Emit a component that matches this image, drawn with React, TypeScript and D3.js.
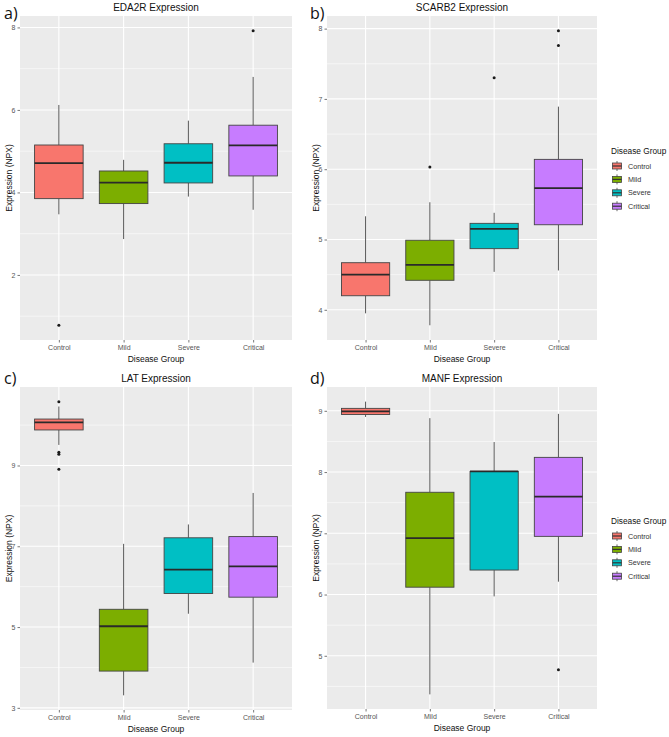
import React, { useEffect, useRef } from "react";
import * as d3 from "d3";

const groups = ["Control", "Mild", "Severe", "Critical"];
const groupColors = ["#F8766D", "#7CAE00", "#00BFC4", "#C77CFF"];

// box stats per group: [lower whisker, Q1, median, Q3, upper whisker]
const eda2rBoxes = [
  [3.47, 3.85, 4.71, 5.15, 6.12],
  [2.87, 3.73, 4.24, 4.52, 4.79],
  [3.9, 4.23, 4.72, 5.18, 5.74],
  [3.58, 4.4, 5.14, 5.63, 6.8],
];
const eda2rOutliers = [[0.78], [], [], [7.92]];
const eda2rTicks = [2, 4, 6, 8];
const eda2rMinor = [1, 3, 5, 7];

const scarb2Boxes = [
  [3.95, 4.2, 4.5, 4.67, 5.33],
  [3.78, 4.42, 4.64, 4.99, 5.53],
  [4.54, 4.87, 5.15, 5.23, 5.38],
  [4.56, 5.21, 5.73, 6.14, 6.89],
];
const scarb2Outliers = [[], [6.03], [7.3], [7.97, 7.76]];
const scarb2Ticks = [4, 5, 6, 7, 8];
const scarb2Minor = [4.5, 5.5, 6.5, 7.5];

const latBoxes = [
  [9.51, 9.88, 10.07, 10.15, 10.46],
  [3.31, 3.91, 5.02, 5.44, 7.06],
  [5.33, 5.83, 6.42, 7.21, 7.54],
  [4.12, 5.74, 6.5, 7.24, 8.32],
];
const latOutliers = [[10.58, 9.33, 9.28, 8.91], [], [], []];
const latTicks = [3, 5, 7, 9];
const latMinor = [4, 6, 8, 10];

const manfBoxes = [
  [8.9, 8.94, 8.99, 9.04, 9.15],
  [4.37, 6.12, 6.92, 7.67, 8.88],
  [5.97, 6.4, 8.01, 8.01, 8.49],
  [6.21, 6.95, 7.6, 8.24, 8.95],
];
const manfOutliers = [[], [], [], [4.77]];
const manfTicks = [5, 6, 7, 8, 9];
const manfMinor = [4.5, 5.5, 6.5, 7.5, 8.5];

const panels = [
  { tag: "a)", title: "EDA2R Expression", boxes: eda2rBoxes, outliers: eda2rOutliers, ticks: eda2rTicks, minor: eda2rMinor,
    x: 20, y: 16, w: 272, h: 324, tagX: 4, tagY: 19, legend: false },
  { tag: "b)", title: "SCARB2 Expression", boxes: scarb2Boxes, outliers: scarb2Outliers, ticks: scarb2Ticks, minor: scarb2Minor,
    x: 327, y: 16, w: 270, h: 324, tagX: 310, tagY: 19, legend: true },
  { tag: "c)", title: "LAT Expression", boxes: latBoxes, outliers: latOutliers, ticks: latTicks, minor: latMinor,
    x: 20, y: 387, w: 272, h: 323, tagX: 4, tagY: 384, legend: false },
  { tag: "d)", title: "MANF Expression", boxes: manfBoxes, outliers: manfOutliers, ticks: manfTicks, minor: manfMinor,
    x: 327, y: 387, w: 270, h: 322, tagX: 310, tagY: 384, legend: true },
];

const FONT = "'Liberation Sans', Arial, sans-serif";

export default function App() {
  const ref = useRef<SVGSVGElement>(null);

  useEffect(() => {
    const svg = d3.select(ref.current);
    svg.selectAll("*").remove();

    panels.forEach((p) => {
      const g = svg.append("g");
      const allVals = p.boxes.flat().concat(p.outliers.flat());
      const lo = d3.min(allVals) as number;
      const hi = d3.max(allVals) as number;
      const pad = (hi - lo) * 0.05;

      const x = d3
        .scalePoint<string>()
        .domain(groups)
        .range([p.x, p.x + p.w])
        .padding(0.6);
      const y = d3
        .scaleLinear()
        .domain([lo - pad, hi + pad])
        .range([p.y + p.h, p.y]);
      const bw = x.step() * 0.75;

      // panel background
      g.append("rect")
        .attr("x", p.x)
        .attr("y", p.y)
        .attr("width", p.w)
        .attr("height", p.h)
        .attr("fill", "#EBEBEB");

      // minor grid
      g.selectAll(".minor")
        .data(p.minor)
        .join("line")
        .attr("x1", p.x)
        .attr("x2", p.x + p.w)
        .attr("y1", (d) => y(d))
        .attr("y2", (d) => y(d))
        .attr("stroke", "#fff")
        .attr("stroke-width", 0.55);

      // major grid
      g.selectAll(".majorY")
        .data(p.ticks)
        .join("line")
        .attr("x1", p.x)
        .attr("x2", p.x + p.w)
        .attr("y1", (d) => y(d))
        .attr("y2", (d) => y(d))
        .attr("stroke", "#fff")
        .attr("stroke-width", 1.1);
      g.selectAll(".majorX")
        .data(groups)
        .join("line")
        .attr("x1", (d) => x(d)!)
        .attr("x2", (d) => x(d)!)
        .attr("y1", p.y)
        .attr("y2", p.y + p.h)
        .attr("stroke", "#fff")
        .attr("stroke-width", 1.1);

      // boxes
      p.boxes.forEach((b, i) => {
        const cx = x(groups[i])!;
        g.append("line")
          .attr("x1", cx)
          .attr("x2", cx)
          .attr("y1", y(b[4]))
          .attr("y2", y(b[3]))
          .attr("stroke", "#444")
          .attr("stroke-width", 0.9);
        g.append("line")
          .attr("x1", cx)
          .attr("x2", cx)
          .attr("y1", y(b[1]))
          .attr("y2", y(b[0]))
          .attr("stroke", "#444")
          .attr("stroke-width", 0.9);
        g.append("rect")
          .attr("x", cx - bw / 2)
          .attr("y", y(b[3]))
          .attr("width", bw)
          .attr("height", y(b[1]) - y(b[3]))
          .attr("fill", groupColors[i])
          .attr("stroke", "#444")
          .attr("stroke-width", 0.9);
        g.append("line")
          .attr("x1", cx - bw / 2)
          .attr("x2", cx + bw / 2)
          .attr("y1", y(b[2]))
          .attr("y2", y(b[2]))
          .attr("stroke", "#2a2a2a")
          .attr("stroke-width", 1.8);
        g.selectAll(null)
          .data(p.outliers[i])
          .join("circle")
          .attr("cx", cx)
          .attr("cy", (d) => y(d))
          .attr("r", 1.5)
          .attr("fill", "#1a1a1a");
      });

      // axes
      const yAxis = g
        .append("g")
        .attr("transform", `translate(${p.x},0)`)
        .call(d3.axisLeft(y).tickValues(p.ticks).tickSize(2.5).tickPadding(2).tickFormat(d3.format("d")));
      const xAxis = g
        .append("g")
        .attr("transform", `translate(0,${p.y + p.h})`)
        .call(d3.axisBottom(x).tickSize(2.5).tickPadding(2.5));
      [xAxis, yAxis].forEach((a) => {
        a.select(".domain").remove();
        a.selectAll("line").attr("stroke", "#555").attr("stroke-width", 0.8);
        a.selectAll("text")
          .attr("fill", "#555")
          .attr("font-size", "7px")
          .attr("font-family", FONT);
      });

      // axis titles
      g.append("text")
        .attr("x", p.x + p.w / 2)
        .attr("y", p.y + p.h + 22)
        .attr("text-anchor", "middle")
        .attr("font-size", "8.5px")
        .attr("font-family", FONT)
        .attr("fill", "#111")
        .text("Disease Group");
      g.append("text")
        .attr("transform", `translate(${p.x - 8.5},${p.y + p.h / 2}) rotate(-90)`)
        .attr("text-anchor", "middle")
        .attr("font-size", "8.5px")
        .attr("font-family", FONT)
        .attr("fill", "#111")
        .text("Expression (NPX)");

      // title
      g.append("text")
        .attr("x", p.x + p.w / 2)
        .attr("y", p.y - 5)
        .attr("text-anchor", "middle")
        .attr("font-size", "10px")
        .attr("font-family", FONT)
        .attr("fill", "#111")
        .text(p.title);

      // panel tag
      g.append("text")
        .attr("x", p.tagX)
        .attr("y", p.tagY)
        .attr("font-size", "16px")
        .attr("font-family", "'Open Sans', 'Noto Sans', sans-serif")
        .attr("fill", "#111")
        .text(p.tag);

      // legend
      if (p.legend) {
        const cy = p.y + p.h / 2;
        const lg = g.append("g").attr("transform", `translate(611,${cy - 24})`);
        lg.append("text")
          .attr("x", 0)
          .attr("y", 0)
          .attr("font-size", "8.3px")
          .attr("font-family", FONT)
          .attr("fill", "#111")
          .text("Disease Group");
        groups.forEach((gName, i) => {
          const ky = 12 + i * 13.4;
          lg.append("line")
            .attr("x1", 6)
            .attr("x2", 6)
            .attr("y1", ky - 5)
            .attr("y2", ky + 5)
            .attr("stroke", "#444")
            .attr("stroke-width", 0.8);
          lg.append("rect")
            .attr("x", 1.5)
            .attr("y", ky - 3)
            .attr("width", 9)
            .attr("height", 6)
            .attr("fill", groupColors[i])
            .attr("stroke", "#444")
            .attr("stroke-width", 0.8);
          lg.append("line")
            .attr("x1", 1.5)
            .attr("x2", 10.5)
            .attr("y1", ky)
            .attr("y2", ky)
            .attr("stroke", "#333")
            .attr("stroke-width", 1.2);
          lg.append("text")
            .attr("x", 17)
            .attr("y", ky + 2.5)
            .attr("font-size", "7.2px")
            .attr("font-family", FONT)
            .attr("fill", "#333")
            .text(gName);
        });
      }
    });
  }, []);

  return (
    <svg
      ref={ref}
      width={669}
      height={737}
      style={{ position: "absolute", left: 0, top: 0, background: "#fff" }}
    />
  );
}
